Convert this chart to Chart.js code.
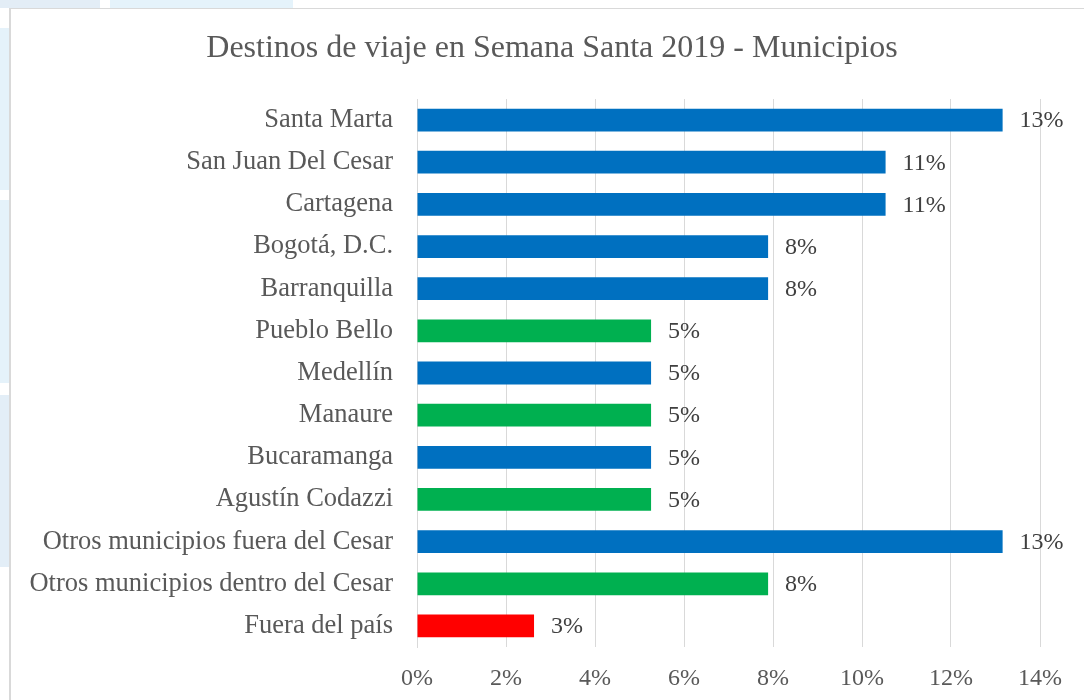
<!DOCTYPE html>
<html>
<head>
<meta charset="utf-8">
<script src="https://cdn.jsdelivr.net/npm/chart.js@4/dist/chart.umd.min.js"></script>
<style>
  html, body { margin: 0; padding: 0; background: #ffffff; overflow: hidden; }
  body { width: 1084px; height: 700px; position: relative; }
  .tint { position: absolute; }
  #frame {
    position: absolute; left: 9px; top: 8px; width: 1084px; height: 700px;
    border: 1px solid #d9d9d9; border-width: 1px 0 0 2px; background: #ffffff;
  }
  #chart { position: absolute; left: 0; top: 0; }
</style>
</head>
<body>
<div class="tint" style="left:0;top:0;width:100px;height:8px;background:#e3edf6"></div>
<div class="tint" style="left:110px;top:0;width:183px;height:8px;background:#e5f3fb"></div>
<div class="tint" style="left:0;top:28px;width:9px;height:162px;background:#e5f2fa"></div>
<div class="tint" style="left:0;top:200px;width:9px;height:183px;background:#e5f2fa"></div>
<div class="tint" style="left:0;top:395px;width:9px;height:172px;background:#e3eef7"></div>
<div id="frame"><canvas id="chart" width="1073" height="691"></canvas></div>
<script>
// Destinos de viaje en Semana Santa 2019 (participación por municipio)
const chartTitle = 'Destinos de viaje en Semana Santa 2019 - Municipios';
const categories = [
  'Santa Marta', 'San Juan Del Cesar', 'Cartagena', 'Bogotá, D.C.', 'Barranquilla',
  'Pueblo Bello', 'Medellín', 'Manaure', 'Bucaramanga', 'Agustín Codazzi',
  'Otros municipios fuera del Cesar', 'Otros municipios dentro del Cesar', 'Fuera del país'
];
const shares = [
  0.1316, 0.1053, 0.1053, 0.0789, 0.0789,
  0.0526, 0.0526, 0.0526, 0.0526, 0.0526,
  0.1316, 0.0789, 0.0263
];
const groups = [
  'fuera', 'fuera', 'fuera', 'fuera', 'fuera',
  'cesar', 'fuera', 'cesar', 'fuera', 'cesar',
  'fuera', 'cesar', 'exterior'
];
const groupColors = { fuera: '#0070C0', cesar: '#00B050', exterior: '#FF0000' };
const xTicks = [0, 0.02, 0.04, 0.06, 0.08, 0.10, 0.12, 0.14];

const serif = '"Liberation Serif", "Times New Roman", serif';
const pct = v => Math.round(v * 100) + '%';

// title centred on the whole frame, independent of the axis padding
const centredTitle = {
  id: 'centredTitle',
  afterDraw(chart) {
    const ctx = chart.ctx;
    ctx.save();
    ctx.font = '32px ' + serif;
    ctx.fillStyle = '#595959';
    ctx.textAlign = 'center';
    ctx.textBaseline = 'middle';
    ctx.fillText(chartTitle, 541, 40);
    ctx.restore();
  }
};

// draws the rounded percentage next to the end of each bar
const barValueLabels = {
  id: 'barValueLabels',
  afterDatasetsDraw(chart) {
    const ctx = chart.ctx;
    const meta = chart.getDatasetMeta(0);
    ctx.save();
    ctx.font = '24px ' + serif;
    ctx.fillStyle = '#404040';
    ctx.textAlign = 'left';
    ctx.textBaseline = 'middle';
    meta.data.forEach((bar, i) => {
      ctx.fillText(pct(shares[i]), bar.x + 17, bar.y + 1);
    });
    ctx.restore();
  }
};

new Chart(document.getElementById('chart'), {
  type: 'bar',
  data: {
    labels: categories,
    datasets: [{
      data: shares,
      backgroundColor: groups.map(g => groupColors[g]),
      borderWidth: 0,
      barPercentage: 0.54,
      categoryPercentage: 1.0
    }]
  },
  options: {
    indexAxis: 'y',
    responsive: false,
    animation: false,
    layout: { padding: { left: 0, right: 44, top: 90, bottom: 9 } },
    plugins: {
      legend: { display: false },
      tooltip: { enabled: false },
      title: { display: false }
    },
    scales: {
      x: {
        min: 0,
        max: 0.14,
        afterBuildTicks: scale => { scale.ticks = xTicks.map(v => ({ value: v })); },
        afterFit: scale => { scale.height = 44; },
        grid: { color: '#d9d9d9', lineWidth: 1, drawTicks: false },
        border: { display: false },
        ticks: {
          padding: 17,
          color: '#595959',
          font: { family: serif, size: 24 },
          callback: v => pct(v)
        }
      },
      y: {
        grid: { display: false, drawTicks: false },
        border: { display: true, color: '#d9d9d9', width: 1 },
        afterFit: scale => { scale.width = 406; },
        ticks: {
          padding: 24,
          color: '#595959',
          font: { family: serif, size: 26.5 }
        }
      }
    }
  },
  plugins: [barValueLabels, centredTitle]
});
</script>
</body>
</html>
